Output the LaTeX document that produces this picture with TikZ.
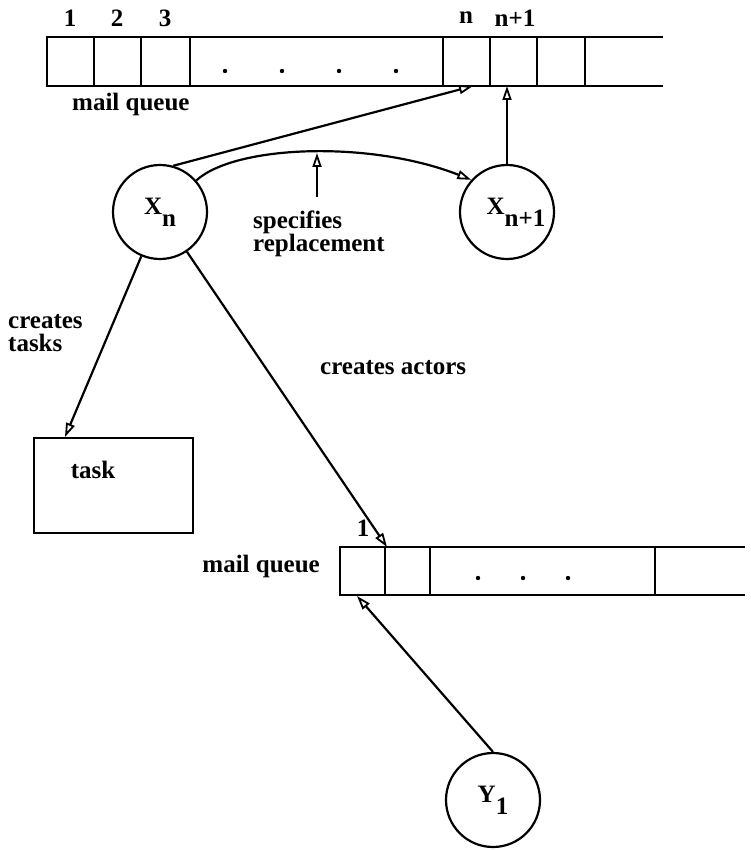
\documentclass[tikz,border=0pt]{standalone}
\usepackage{fontspec}
\setmainfont{Liberation Serif}
\usetikzlibrary{arrows.meta}
\begin{document}
\begin{tikzpicture}[x=1pt,y=-1pt,
  ln/.style={line width=2.2pt},
  arr/.style={ln,-{Triangle[open,length=14pt,width=9pt,line width=1.8pt]}},
  lbl/.style={font=\fontsize{25}{23}\selectfont\bfseries, inner sep=0pt},
  actor/.style={circle, draw, line width=2.2pt, minimum size=94pt, inner sep=0pt, font=\fontsize{25}{23}\selectfont\bfseries}]
\useasboundingbox (0,0) rectangle (751,850);
% top mail queue
\draw[ln] (47,37) rectangle (585,86);
\foreach \x in {94,141,190,443,490,537} \draw[ln] (\x,37) -- (\x,86);
\draw[ln] (585,37) -- (663,37) (585,86) -- (663,86);
\foreach \x in {225,282,339,396} \fill (\x,71) circle (2.2pt);
\node[lbl] (l1) at (70,18) {1};
\node[lbl] (l2) at (117,18) {2};
\node[lbl] (l3) at (165,18) {3};
\node[lbl] (ln) at (466,18) {n};
\node[lbl] (ln1) at (515,18) {n+1};
\node[lbl, anchor=west] (mq1) at (72,104) {mail queue};
% actors
\node[actor] (Xn) at (160,212) {X\raisebox{-12pt}{n}};
\node[actor] (Xn1) at (507,212) {\hspace*{18pt}X\raisebox{-12pt}{n+1}};
\coordinate (tn) at (473,86);
\coordinate (tn1) at (Xn1.north |- tn);
\draw[arr] (Xn.74) -- (tn);
\draw[arr] (Xn1.north) -- (tn1);
\draw[arr] (Xn.41) .. controls (235,145) and (370,140) .. (Xn1.138);
% specifies replacement
\node[lbl, anchor=west, align=left] (spec) at (253,234) {specifies\\replacement};
\coordinate (spbot) at (317,197);
\coordinate (sptop) at (317,153);
\draw[arr] (spbot) -- (sptop);
% creates tasks
\node[lbl, anchor=west, align=left] (ct) at (8,333) {creates\\tasks};
\node[draw, ln, minimum width=159pt, minimum height=95pt, anchor=north west, inner sep=0pt] (task) at (33,437) {};
\node[lbl] (tasktxt) at (93,470) {task};
\coordinate (ttip) at (65,437);
\draw[arr] (Xn) -- (ttip);
% creates actors
\node[lbl, anchor=west] (ca) at (320,368) {creates actors};
\coordinate (atip) at (387,547);
\draw[arr] (Xn) -- (atip);
% bottom mail queue
\draw[ln] (340,547) rectangle (655,595);
\foreach \x in {385,430} \draw[ln] (\x,547) -- (\x,595);
\draw[ln] (655,547) -- (745,547) (655,595) -- (745,595);
\foreach \x in {478,523,568} \fill (\x,578) circle (2.2pt);
\node[lbl, anchor=east] (mq2) at (320,566) {mail queue};
\node[lbl] (one) at (363,528) {1};
% Y1
\node[actor] (Y1) at (493,800) {Y\raisebox{-12pt}{1}};
\coordinate (ytip) at (357,596);
\draw[arr] (Y1.north) -- (ytip);
\end{tikzpicture}
\end{document}
